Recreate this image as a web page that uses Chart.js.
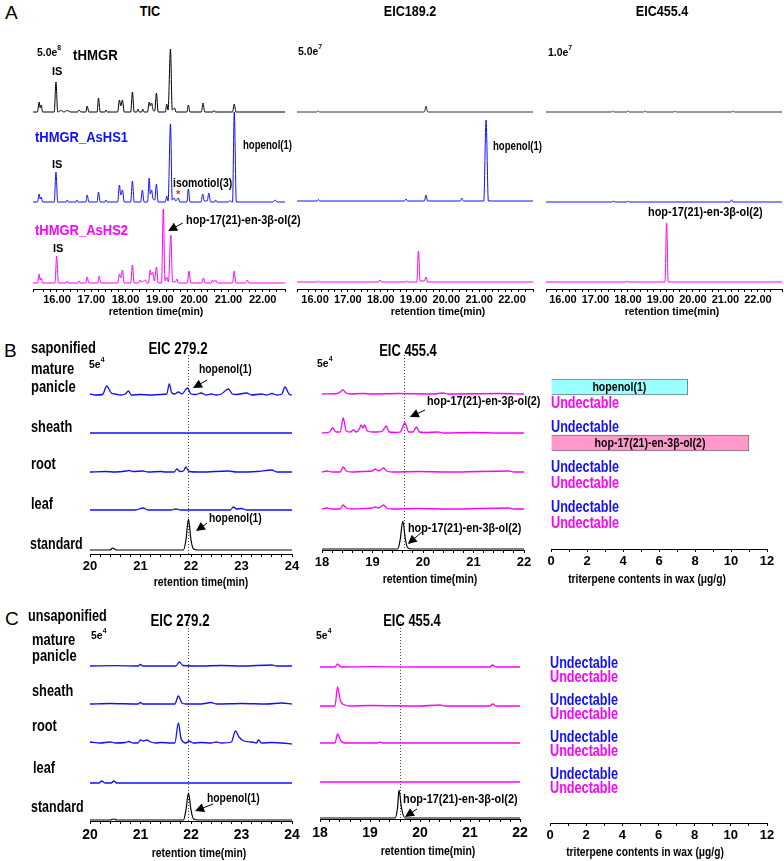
<!DOCTYPE html>
<html><head><meta charset="utf-8">
<script src="https://cdn.jsdelivr.net/npm/chart.js@4.4.0/dist/chart.umd.min.js"></script>
<style>
html,body{margin:0;padding:0;background:#fff;}
#wrap{position:relative;width:784px;height:861px;overflow:hidden;font-family:'Liberation Sans',Arial,sans-serif;font-weight:bold;color:#000;}
canvas{position:absolute;}
.t{position:absolute;white-space:nowrap;line-height:1;}
.t sup{font-size:65%;vertical-align:top;position:relative;top:-2px;}
</style></head><body><div id="wrap"></div>
<script>
// ---------------- DATA (retention time in min, relative intensity) ----------------
// Panel A — TIC
const ticTHMGR = [[15.30,0],[15.43,0],[15.48,10],[15.51,4],[15.54,7],[15.58,0],[15.92,0],[15.97,30],[16.02,0],[16.12,1.5],[16.2,0],[16.3,1.5],[16.4,0],[16.6,0],[16.64,2],[16.7,0],[16.84,0],[16.88,6],[16.93,0],[17.17,0],[17.21,14],[17.26,0],[17.40,0],[17.43,2],[17.47,0],[17.77,0],[17.82,12],[17.86,6],[17.91,12],[17.96,0],[18.15,0],[18.2,20],[18.25,0],[18.33,0],[18.36,3],[18.4,0],[18.47,0],[18.5,3],[18.54,0],[18.64,0],[18.69,10],[18.72,6],[18.76,9],[18.8,2],[18.85,1],[18.9,19],[18.95,0],[19.16,0],[19.2,8],[19.24,2],[19.31,63],[19.36,2],[19.43,4],[19.47,0],[19.79,0],[19.83,7],[19.88,0],[20.21,0],[20.26,9],[20.31,0],[20.55,0],[20.58,1.5],[20.62,0],[21.12,0],[21.17,8],[21.22,0],[22.65,0]];
const ticAsHS1 = [[15.30,0],[15.43,0],[15.48,8],[15.51,3],[15.54,5],[15.58,0],[15.92,0],[15.97,30],[16.02,0],[16.27,0],[16.3,2],[16.34,0],[16.55,0],[16.58,2],[16.62,0],[16.84,0],[16.88,7],[16.93,0],[17.17,0],[17.21,10],[17.26,0],[17.40,0],[17.43,2],[17.47,0],[17.77,0],[17.82,17],[17.86,7],[17.91,12],[17.96,0],[18.15,0],[18.2,21],[18.25,0],[18.44,0],[18.49,12],[18.54,0],[18.64,0],[18.69,24],[18.72,8],[18.76,12],[18.8,3],[18.85,2],[18.9,18],[18.95,0],[19.16,0],[19.2,6],[19.24,1],[19.31,78],[19.36,2],[19.42,4],[19.46,1],[19.54,4],[19.58,0],[19.79,0],[19.83,13],[19.88,0],[20.2,0],[20.25,8],[20.3,1],[20.38,1],[20.43,9],[20.48,0],[20.6,0],[20.63,2],[20.67,0],[21.0,0],[21.05,1.5],[21.09,0],[21.12,0],[21.17,90],[21.23,0],[22.3,0],[22.36,2],[22.42,0],[22.65,0]];
const ticAsHS2 = [[15.30,0],[15.43,0],[15.48,9],[15.51,3],[15.54,5],[15.58,0],[15.94,0],[15.99,27],[16.04,0],[16.27,0],[16.3,2],[16.34,0],[16.6,0],[16.64,2],[16.68,0],[16.84,0],[16.88,6],[16.93,0],[17.19,0],[17.23,7],[17.28,0],[17.77,0],[17.82,9],[17.86,5],[17.91,13],[17.96,0],[18.15,0],[18.2,18],[18.25,0],[18.38,0],[18.42,3],[18.46,1],[18.58,3],[18.62,0],[18.67,0],[18.72,13],[18.75,8],[18.79,11],[18.84,2],[18.9,16],[18.95,0],[19.05,0],[19.1,74],[19.15,2],[19.2,6],[19.25,1],[19.32,48],[19.37,1],[19.45,1],[19.5,4],[19.54,0],[19.8,0],[19.85,12],[19.9,0],[20.22,0],[20.27,5],[20.32,0],[20.5,0],[20.53,3],[20.57,1],[20.63,3],[20.67,0],[21.12,0],[21.17,12],[21.22,0],[21.5,0],[21.55,3],[21.6,0],[22.65,0]];
// Panel A — EIC 189.2
const eic189THMGR = [[15.45,0],[16.06,0],[16.1,1],[16.14,0],[19.33,0],[19.38,6],[19.43,0],[22.64,0]];
const eic189AsHS1 = [[15.45,0],[16.06,0],[16.1,1.5],[16.14,0],[18.72,0],[18.77,2],[18.82,0],[19.33,0],[19.38,6],[19.43,0],[20.42,0],[20.47,3],[20.52,0],[21.14,0],[21.21,81],[21.28,0],[22.64,0]];
const eic189AsHS2 = [[15.45,0],[16.06,0],[16.1,1],[16.14,0],[17.93,0],[17.98,2],[18.03,0],[18.74,0],[18.79,1],[18.84,0],[19.1,0],[19.15,31],[19.2,1],[19.33,1],[19.38,5],[19.43,0],[22.64,0]];
// Panel A — EIC 455.4
const eic455THMGR = [[15.48,0],[17.49,0],[17.53,1],[17.57,0],[17.97,0],[18.01,1],[18.05,0],[18.48,0],[18.52,1],[18.56,0],[19.41,0],[19.45,1],[19.49,0],[21.2,0],[21.24,1],[21.28,0],[22.74,0]];
const eic455AsHS1 = [[15.48,0],[17.5,0],[17.55,0.8],[17.6,0],[17.96,0],[18.0,0.8],[18.04,0],[21.14,0],[21.19,2],[21.24,0],[22.74,0]];
const eic455AsHS2 = [[15.48,0],[17.93,0],[17.97,1],[18.01,0],[19.14,0],[19.19,59],[19.24,0],[22.74,0]];

// Panel B — saponified wax, EIC 279.2 (mature panicle, sheath, root, leaf, standard)
const sap279Panicle = [[20.0,1],[20.1,0],[20.25,0.5],[20.33,9],[20.42,2],[20.5,1],[20.6,0],[20.7,1],[20.76,4],[20.82,0],[21.0,0.5],[21.2,0],[21.4,0.5],[21.52,1],[21.57,11],[21.62,2],[21.68,1],[21.75,3],[21.82,1],[21.93,7],[22.0,1],[22.1,0.5],[22.2,2],[22.3,0],[22.4,1],[22.5,0],[22.6,1],[22.74,6],[22.82,1],[22.9,0.5],[23.1,2],[23.2,0],[23.4,1],[23.5,0],[23.6,1.5],[23.7,0],[23.8,1],[23.86,8],[23.94,1],[24.0,0]];
const sap279Sheath = [[20.0,0],[24.0,0]];
const sap279Root = [[20.0,0],[20.3,0.5],[20.5,0],[20.72,1],[20.77,1.5],[20.85,0.5],[21.05,1],[21.15,0],[21.4,0.5],[21.5,0],[21.67,0],[21.72,3],[21.78,0.5],[21.85,1],[21.9,5],[21.96,0.5],[22.2,0],[22.74,1],[22.9,0],[23.3,0.5],[23.6,2],[23.7,0],[24.0,0]];
const sap279Leaf = [[20.0,0],[20.9,0],[21.05,2],[21.15,0],[21.6,0],[21.7,1],[21.8,0],[22.78,0],[22.84,3],[22.9,1],[23.0,1.5],[23.1,0],[24.0,0]];
const std279 = [[20.0,0],[20.4,0],[20.45,2],[20.52,0],[21.85,0],[21.9,10],[21.95,31],[22.0,10],[22.05,1],[22.15,0],[24.0,0]];
// Panel B — saponified wax, EIC 455.4
const sap455Panicle = [[18.0,0],[18.3,0.5],[18.36,2],[18.41,4],[18.48,1],[18.55,0],[18.8,0.5],[19.0,0],[19.5,0.5],[20.2,0],[20.4,1],[20.5,0],[21.5,0.5],[22.0,0]];
const sap455Sheath = [[18.0,0],[18.15,1],[18.21,5],[18.28,1],[18.36,1],[18.42,15],[18.48,2],[18.56,1],[18.62,3],[18.68,1],[18.74,4],[18.77,8],[18.81,5],[18.84,8],[18.9,2],[19.0,1],[19.1,1],[19.2,2],[19.27,7],[19.33,1],[19.45,0.5],[19.55,1],[19.64,10],[19.72,1],[19.8,1],[19.87,6],[19.93,1],[20.05,0.5],[20.3,1],[20.4,0],[21.0,0.5],[21.5,0],[22.0,0]];
const sap455Root = [[18.0,0],[18.1,1],[18.2,0],[18.36,0],[18.42,5],[18.48,1],[18.6,0],[18.8,0.5],[19.0,1],[19.05,3],[19.12,1],[19.22,4],[19.28,1],[19.4,0],[19.9,0.5],[20.5,0],[21.7,1],[21.8,0],[22.0,0]];
const sap455Leaf = [[18.0,0],[18.1,1],[18.2,0],[18.36,0],[18.42,4],[18.48,1],[18.6,0],[18.85,0.5],[19.0,1],[19.05,2],[19.12,1],[19.22,4],[19.28,1],[19.4,0],[19.9,0.5],[20.5,0],[21.7,1],[21.8,0],[22.0,0]];
const std455 = [[18.0,0],[19.5,0],[19.55,10],[19.6,28],[19.65,10],[19.7,1],[19.8,0],[22.0,0]];

// Panel C — unsaponified wax, EIC 279.2
const unsap279Panicle = [[20.0,0],[20.5,0.3],[20.95,0],[21.0,1.5],[21.05,0],[21.7,0],[21.77,4],[21.84,0.5],[22.2,0],[22.6,0.5],[23.0,0],[23.6,1],[23.7,0],[24.0,0]];
const unsap279Sheath = [[20.0,0],[20.4,0.5],[20.95,0],[21.0,1.5],[21.05,0],[21.68,0],[21.75,8],[21.82,1],[21.9,0],[22.2,0],[22.4,1.5],[22.5,0],[23.0,0.5],[23.5,0],[23.8,1],[24.0,0]];
const unsap279Root = [[20.0,1],[20.2,0],[20.4,1],[20.5,0],[20.7,0.5],[20.77,1.5],[20.85,0],[20.95,0],[21.0,3],[21.06,2],[21.12,3],[21.2,1],[21.3,0],[21.4,0.5],[21.6,0],[21.68,0],[21.75,20],[21.8,5],[21.85,1],[21.9,0],[21.96,2],[22.05,0],[22.2,0.5],[22.4,0],[22.5,1],[22.6,0],[22.8,1],[22.88,12],[22.95,6],[23.05,2],[23.2,1],[23.3,0],[23.33,3],[23.4,0],[23.6,0.5],[23.8,0],[24.0,-1]];
const unsap279Leaf = [[20.0,0],[20.18,0],[20.23,2],[20.3,0],[20.42,0],[20.47,2],[20.53,0],[24.0,0]];
const std279b = [[20.0,0],[20.4,0],[20.47,1],[20.53,0],[21.85,0],[21.9,10],[21.95,27],[22.0,10],[22.05,1],[22.15,0],[24.0,0]];
// Panel C — unsaponified wax, EIC 455.4
const unsap455Panicle = [[18.0,0],[18.3,0],[18.35,3],[18.42,0],[19.0,0.3],[20.0,0],[21.4,0],[21.45,2],[21.52,0],[22.0,0]];
const unsap455Sheath = [[18.0,0],[18.3,0],[18.35,19],[18.41,5],[18.5,1],[18.6,0],[19.0,0.5],[20.0,0],[20.4,1],[20.5,0],[21.4,0],[21.45,2],[21.52,0],[22.0,0]];
const unsap455Root = [[18.0,0],[18.3,0],[18.35,9],[18.42,2],[18.5,0],[19.15,0],[19.2,1],[19.25,0],[22.0,0]];
const unsap455Leaf = [[18.0,0],[22.0,0]];
const std455b = [[18.0,0],[19.5,0],[19.55,10],[19.58,28],[19.63,10],[19.7,0],[22.0,0]];

// Triterpene contents in wax (μg/g); null = undetectable
const tissues = ['mature panicle','sheath','root','leaf'];
const compounds = ['hopenol(1)','hop-17(21)-en-3β-ol(2)'];
const sapHopenol = [7.6, null, null, null];
const sapHopenone = [null, 11.0, null, null];
const unsapHopenol = [null, null, null, null];
const unsapHopenone = [null, null, null, null];
const contentTicks = [0,2,4,6,8,10,12];

// ---------------- STYLE / LAYOUT ----------------
const FONT = "'Liberation Sans',Arial,sans-serif";
const BLUE = '#1010ff', MAG = '#ff00ff', BLK = '#000', GREY = '#333';
Chart.defaults.font.family = FONT;
Chart.defaults.color = '#000';
const wrap = document.getElementById('wrap');

function T(html, x, cy, size, sx, color, align, weight){
  const d = document.createElement('div');
  d.className = 't';
  d.innerHTML = html;
  d.style.fontSize = size + 'px';
  d.style.color = color || '#000';
  d.style.top = (cy - size*0.55) + 'px';
  d.style.left = x + 'px';
  if (weight) d.style.fontWeight = weight;
  if (align === 'c'){ d.style.transformOrigin = 'center center'; d.style.transform = 'translateX(-50%) scaleX(' + sx + ')'; }
  else { d.style.transformOrigin = 'left center'; d.style.transform = 'scaleX(' + sx + ')'; }
  wrap.appendChild(d);
}

const annotPlugin = {
  id: 'annot',
  beforeDatasetsDraw(chart, args, o){
    if (o.vline == null) return;
    const {ctx, chartArea:a, scales:{x}} = chart;
    ctx.save();
    ctx.strokeStyle = '#444'; ctx.lineWidth = 1; ctx.setLineDash([1,2]);
    const px = Math.round(x.getPixelForValue(o.vline)) + 0.5;
    ctx.beginPath(); ctx.moveTo(px, a.top); ctx.lineTo(px, a.bottom); ctx.stroke();
    ctx.restore();
  },
  afterDatasetsDraw(chart, args, o){
    const {ctx, scales:{x,y}} = chart;
    ctx.save();
    (o.arrows || []).forEach(ar => {
      const x1 = x.getPixelForValue(ar[0]), y1 = y.getPixelForValue(ar[1]);
      const x2 = x.getPixelForValue(ar[2]), y2 = y.getPixelForValue(ar[3]);
      const ang = Math.atan2(y2-y1, x2-x1), L = 9, W = 4.5;
      ctx.strokeStyle = '#000'; ctx.fillStyle = '#000'; ctx.lineWidth = 1;
      ctx.beginPath(); ctx.moveTo(x1,y1); ctx.lineTo(x2 - L*0.8*Math.cos(ang), y2 - L*0.8*Math.sin(ang)); ctx.stroke();
      ctx.beginPath();
      ctx.moveTo(x2, y2);
      ctx.lineTo(x2 - L*Math.cos(ang) + W*Math.sin(ang), y2 - L*Math.sin(ang) - W*Math.cos(ang));
      ctx.lineTo(x2 - L*Math.cos(ang) - W*Math.sin(ang), y2 - L*Math.sin(ang) + W*Math.cos(ang));
      ctx.closePath(); ctx.fill();
    });
    ctx.restore();
  }
};

function chrom(g, xr, step, labelFn, traces, annot){
  const c = document.createElement('canvas');
  const pad = 20;
  c.width = g.r - g.l + 2*pad; c.height = g.axisY - g.top + g.axisH;
  c.style.left = (g.l - pad) + 'px'; c.style.top = g.top + 'px';
  wrap.appendChild(c);
  const datasets = traces.map(tr => ({
    data: tr.pts.map(p => ({x: p[0], y: p[1] + (g.axisY - tr.base)})),
    borderColor: tr.color, borderWidth: tr.lw || 1, pointRadius: 0,
    cubicInterpolationMode: 'monotone', fill: false, clip: false
  }));
  new Chart(c, {
    type: 'line', data: {datasets},
    options: {
      responsive: false, animation: false, devicePixelRatio: 1,
      layout: {padding: {left: pad, right: pad, top: 0, bottom: 0}},
      plugins: {legend: {display: false}, tooltip: {enabled: false}, annot: annot || {}},
      scales: {
        x: {type: 'linear', min: xr[0], max: xr[1],
            ticks: {stepSize: step, autoSkip: false, maxRotation: 0, padding: g.tp, callback: labelFn,
                    font: {size: g.fs, weight: 'bold', family: FONT}, color: '#000'},
            grid: {drawOnChartArea: false, drawTicks: true, tickLength: g.tl, color: '#000'},
            border: {display: true, color: '#000', width: 1},
            afterFit: s => { s.height = g.axisH; }},
        y: {display: false, min: 0, max: g.axisY - g.top}
      }
    },
    plugins: [annotPlugin]
  });
}

const fmt2 = v => Math.abs(v - Math.round(v)) < 1e-6 ? Number(v).toFixed(2) : '';
const fmt0 = v => Math.abs(v - Math.round(v)) < 1e-6 ? String(Math.round(v)) : '';

function scaledText(ctx, txt, x, y, sx, align){
  ctx.save(); ctx.translate(x, y); ctx.scale(sx, 1);
  ctx.textAlign = align; ctx.fillText(txt, 0, 0); ctx.restore();
}

const rowTextPlugin = {
  id: 'rowText',
  afterDatasetsDraw(chart, args, o){
    const {ctx, scales:{x,y}} = chart;
    ctx.save();
    ctx.textBaseline = 'middle';
    chart.data.datasets.forEach((ds, d) => {
      ds.data.forEach((p, i) => {
        const py = y.getPixelForValue(p.y) + (d === 0 ? -o.half : o.half);
        if (p.x == null){
          ctx.font = 'bold 16px ' + FONT; ctx.fillStyle = o.colors[d];
          scaledText(ctx, 'Undectable', x.getPixelForValue(0), py + 1, 0.79, 'left');
        } else {
          ctx.font = 'bold 12px ' + FONT; ctx.fillStyle = '#000';
          scaledText(ctx, ds.label, (x.getPixelForValue(0) + x.getPixelForValue(p.x))/2, py + 1, 0.88, 'center');
        }
      });
    });
    ctx.restore();
  }
};

function barChart(g, hopenol, hopenone){
  const c = document.createElement('canvas');
  const pad = 15, thick = g.sp * 0.8 / 2;
  c.width = g.r - g.l + 2*pad; c.height = g.axisY - g.top + g.axisH;
  c.style.left = (g.l - pad) + 'px'; c.style.top = g.top + 'px';
  wrap.appendChild(c);
  const mk = (label, vals, fill) => ({label, data: tissues.map((t, i) => ({x: vals[i], y: i})),
    backgroundColor: fill, borderColor: '#777', borderWidth: 1, barThickness: thick});
  new Chart(c, {
    type: 'bar',
    data: {datasets: [mk(compounds[0], hopenol, '#99ffff'), mk(compounds[1], hopenone, '#ff99cc')]},
    options: {
      indexAxis: 'y', responsive: false, animation: false, devicePixelRatio: 1,
      layout: {padding: {left: pad, right: pad, top: 0, bottom: 0}},
      plugins: {legend: {display: false}, tooltip: {enabled: false}, rowText: {half: thick/2, colors: [BLUE, MAG]}},
      scales: {
        x: {type: 'linear', min: 0, max: 12,
            ticks: {stepSize: 1, autoSkip: false, maxRotation: 0, padding: g.tp,
                    callback: v => contentTicks.includes(v) ? String(v) : '',
                    font: {size: g.fs, weight: 'bold', family: FONT}, color: '#000'},
            grid: {drawOnChartArea: false, drawTicks: true, tickLength: 3, color: '#000'},
            border: {display: true, color: '#000', width: 1},
            afterFit: s => { s.height = g.axisH; }},
        y: {type: 'linear', display: false, reverse: true, offset: false,
            min: -0.5, max: (g.axisY - g.top)/g.sp - 0.5, ticks: {stepSize: 1}}
      }
    },
    plugins: [rowTextPlugin]
  });
}

// ---------------- PANEL A ----------------
const gTIC = {l: 33, r: 285, axisY: 289, top: 40, axisH: 22, tl: 3, tp: 1, fs: 11};
chrom(gTIC, [15.30, 22.65], 0.2, fmt2, [
  {pts: ticTHMGR, base: 112, color: BLK},
  {pts: ticAsHS1, base: 202, color: BLUE},
  {pts: ticAsHS2, base: 283, color: MAG}
], {arrows: [[19.67, 66, 19.24, 58]]});
const g189 = {l: 297, r: 533, axisY: 289, top: 40, axisH: 22, tl: 3, tp: 1, fs: 11};
chrom(g189, [15.45, 22.64], 0.2, fmt2, [
  {pts: eic189THMGR, base: 112, color: GREY},
  {pts: eic189AsHS1, base: 201, color: BLUE},
  {pts: eic189AsHS2, base: 282, color: MAG}
]);
const g455 = {l: 546, r: 782, axisY: 289, top: 40, axisH: 22, tl: 3, tp: 1, fs: 11};
chrom(g455, [15.48, 22.74], 0.2, fmt2, [
  {pts: eic455THMGR, base: 112, color: GREY},
  {pts: eic455AsHS1, base: 202, color: BLUE},
  {pts: eic455AsHS2, base: 282, color: MAG}
]);

// ---------------- PANEL B ----------------
const gB279 = {l: 90, r: 292, axisY: 554, top: 355, axisH: 22, tl: 3, tp: 2, fs: 13};
chrom(gB279, [20, 24], 0.2, fmt0, [
  {pts: sap279Panicle, base: 395, color: BLUE, lw: 1.3},
  {pts: sap279Sheath, base: 433, color: BLUE, lw: 1.3},
  {pts: sap279Root, base: 472, color: BLUE, lw: 1.3},
  {pts: sap279Leaf, base: 510, color: BLUE, lw: 1.3},
  {pts: std279, base: 550, color: BLK, lw: 1.2}
], {vline: 21.95, arrows: [[22.32, 174, 22.04, 166], [22.32, 31, 22.1, 23]]});
const gB455 = {l: 322, r: 524, axisY: 550, top: 355, axisH: 22, tl: 3, tp: 2, fs: 13};
chrom(gB455, [18, 22], 0.2, fmt0, [
  {pts: sap455Panicle, base: 394, color: MAG, lw: 1.3},
  {pts: sap455Sheath, base: 433, color: MAG, lw: 1.3},
  {pts: sap455Root, base: 472, color: MAG, lw: 1.3},
  {pts: sap455Leaf, base: 509, color: MAG, lw: 1.3},
  {pts: std455, base: 549, color: BLK, lw: 1.2}
], {vline: 19.62, arrows: [[20.04, 140, 19.74, 133], [19.98, 18, 19.7, 6]]});
const gBbar = {l: 551, r: 767, axisY: 549, top: 375, sp: 40, axisH: 22, tp: 2, fs: 13};
barChart(gBbar, sapHopenol, sapHopenone);

// ---------------- PANEL C ----------------
const gC279 = {l: 90, r: 292, axisY: 821, top: 622, axisH: 24, tl: 3, tp: 3, fs: 14};
chrom(gC279, [20, 24], 0.2, fmt0, [
  {pts: unsap279Panicle, base: 666, color: BLUE, lw: 1.3},
  {pts: unsap279Sheath, base: 704, color: BLUE, lw: 1.3},
  {pts: unsap279Root, base: 743, color: BLUE, lw: 1.3},
  {pts: unsap279Leaf, base: 783, color: BLUE, lw: 1.3},
  {pts: std279b, base: 820, color: BLK, lw: 1.2}
], {vline: 21.95, arrows: [[22.44, 17, 22.08, 10]]});
const gC455 = {l: 320, r: 520, axisY: 819, top: 622, axisH: 24, tl: 3, tp: 3, fs: 14};
chrom(gC455, [18, 22], 0.2, fmt0, [
  {pts: unsap455Panicle, base: 667, color: MAG, lw: 1.3},
  {pts: unsap455Sheath, base: 706, color: MAG, lw: 1.3},
  {pts: unsap455Root, base: 743, color: MAG, lw: 1.3},
  {pts: unsap455Leaf, base: 782, color: MAG, lw: 1.3},
  {pts: std455b, base: 818, color: BLK, lw: 1.2}
], {vline: 19.6, arrows: [[19.94, 10, 19.7, 2]]});
const gCbar = {l: 550, r: 767, axisY: 823, top: 651, sp: 37, axisH: 22, tp: 2, fs: 13};
barChart(gCbar, unsapHopenol, unsapHopenone);

// ---------------- TEXT ----------------
T('A', 5, 13, 19, 1, '#000', 'l', 'normal');
T('TIC', 150, 12, 14, 0.9, '#000', 'c');
T('EIC189.2', 410, 12, 14, 0.9, '#000', 'c');
T('EIC455.4', 662, 12, 14, 0.9, '#000', 'c');
T('5.0e<sup>8</sup>', 37, 53, 11, 0.95);
T('tHMGR', 73, 55, 15, 0.88);
T('IS', 52, 72, 11, 1);
T('tHMGR_AsHS1', 35, 137, 15, 0.865, BLUE);
T('IS', 52, 165, 11, 1);
T('hopenol(1)', 243, 146, 12, 0.8);
T('isomotiol(3)', 173, 184, 12, 0.87);
T('*', 176, 195, 11, 1, '#ff2020');
T('tHMGR_AsHS2', 35, 230, 15, 0.865, MAG);
T('hop-17(21)-en-3β-ol(2)', 186, 221, 12, 0.91);
T('IS', 53, 249, 11, 1);
T('5.0e<sup>7</sup>', 298, 52, 11, 0.95);
T('hopenol(1)', 493, 147, 12, 0.8);
T('1.0e<sup>7</sup>', 548, 53, 11, 0.95);
T('hop-17(21)-en-3β-ol(2)', 648, 213, 12, 0.91);
T('retention time(min)', 156, 312, 11, 0.95, '#000', 'c');
T('retention time(min)', 438, 312, 11, 0.95, '#000', 'c');
T('retention time(min)', 672, 312, 11, 0.95, '#000', 'c');

T('B', 4, 351, 19, 1, '#000', 'l', 'normal');
T('saponified', 31, 349, 16, 0.81);
T('EIC 279.2', 178, 350, 16, 0.83, '#000', 'c');
T('5e<sup>4</sup>', 89, 365, 11, 0.95);
T('mature', 31, 370, 16, 0.81);
T('panicle', 31, 388, 16, 0.81);
T('hopenol(1)', 199, 370, 12, 0.86);
T('sheath', 31, 428, 16, 0.8);
T('root', 31, 465, 16, 0.8);
T('leaf', 31, 505, 16, 0.8);
T('standard', 30, 545, 16, 0.78);
T('hopenol(1)', 209, 519, 12, 0.86);
T('EIC 455.4', 408, 352, 16, 0.81, '#000', 'c');
T('5e<sup>4</sup>', 317, 364, 11, 0.95);
T('hop-17(21)-en-3β-ol(2)', 427, 402, 12, 0.9);
T('hop-17(21)-en-3β-ol(2)', 408, 529, 12, 0.9);
T('retention time(min)', 201, 583, 12, 0.87, '#000', 'c');
T('retention time(min)', 430, 580, 12, 0.87, '#000', 'c');
T('triterpene contents in wax (μg/g)', 647, 580, 12, 0.85, '#000', 'c');

T('C', 5, 619, 19, 1, '#000', 'l', 'normal');
T('unsaponified', 28, 617, 16, 0.79);
T('EIC 279.2', 180, 622, 16, 0.83, '#000', 'c');
T('5e<sup>4</sup>', 91, 636, 11, 0.95);
T('mature', 32, 641, 16, 0.81);
T('panicle', 32, 657, 16, 0.81);
T('sheath', 32, 692, 16, 0.8);
T('root', 32, 727, 16, 0.8);
T('leaf', 33, 769, 16, 0.8);
T('standard', 31, 808, 16, 0.78);
T('hopenol(1)', 207, 799, 12, 0.86);
T('EIC 455.4', 412, 622, 16, 0.81, '#000', 'c');
T('5e<sup>4</sup>', 316, 636, 11, 0.95);
T('hop-17(21)-en-3β-ol(2)', 403, 800, 12, 0.91);
T('retention time(min)', 199, 854, 12, 0.87, '#000', 'c');
T('retention time(min)', 428, 852, 12, 0.87, '#000', 'c');
T('triterpene contents in wax (μg/g)', 645, 853, 12, 0.85, '#000', 'c');
</script></body></html>
